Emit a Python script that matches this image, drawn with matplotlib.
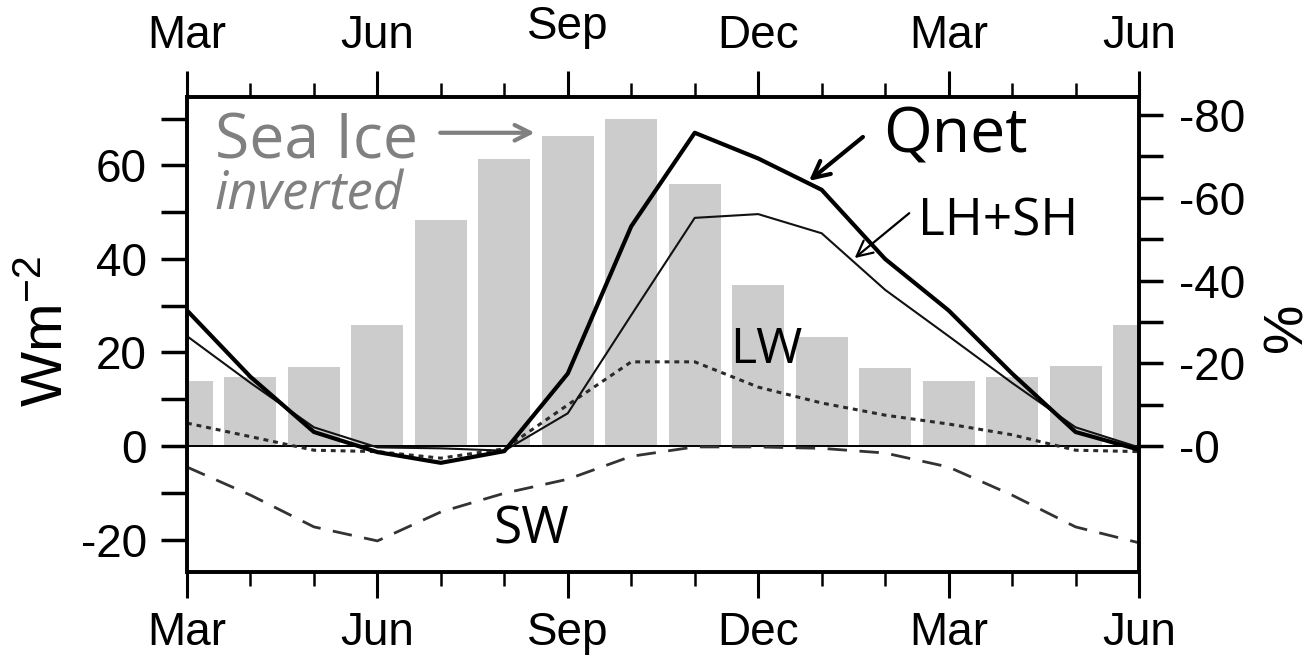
import matplotlib
matplotlib.use("Agg")
import matplotlib.pyplot as plt
import matplotlib.transforms as mtransforms
import numpy as np

plt.rcParams['font.family'] = ['Liberation Sans', 'DejaVu Sans']
plt.rcParams['mathtext.fontset'] = 'custom'
plt.rcParams['mathtext.rm'] = 'Liberation Sans'
plt.rcParams['mathtext.default'] = 'regular'

# ---- data ----
months = ['Mar', 'Apr', 'May', 'Jun', 'Jul', 'Aug', 'Sep', 'Oct', 'Nov', 'Dec',
          'Jan', 'Feb', 'Mar', 'Apr', 'May', 'Jun']
major_labels = ['Mar', 'Jun', 'Sep', 'Dec', 'Mar', 'Jun']
qnet = [29.0, 14.8, 3.0, -1.3, -3.6, -1.1, 15.5, 47.0, 67.0, 61.5, 54.8, 40.0,
        29.0, 15.5, 3.0, -0.8]
lh_sh = [23.5, 13.5, 4.0, -0.3, -0.5, -1.0, 7.0, 28.0, 48.8, 49.6, 45.5, 33.4,
         23.5, 13.5, 4.0, -0.3]
lw = [4.9, 2.0, -0.9, -1.2, -2.6, -0.6, 8.8, 18.0, 18.0, 12.6, 9.2, 6.6,
      4.7, 2.4, -0.9, -1.2]
sw = [-4.5, -10.5, -17.3, -20.3, -14.1, -10.1, -7.1, -2.2, -0.2, -0.2, -0.5, -1.5,
      -4.5, -10.5, -17.3, -20.7]
sea_ice = [-15.7, -16.7, -19.1, -29.2, -54.6, -69.3, -74.9, -79.0, -63.3, -38.9,
           -26.3, -18.8, -15.7, -16.7, -19.3, -29.2]
left_ticks = [-20, 0, 20, 40, 60]
right_ticks = [-80, -60, -40, -20, 0]
right_labels = ['-80', '-60', '-40', '-20', '-0']

x = np.arange(len(months))

fig = plt.figure(figsize=(13.15, 6.63), dpi=100)
ax = fig.add_axes([0.1422, 0.13725, 0.72396, 0.71645])
ax2 = ax.twinx()
ax.set_zorder(ax2.get_zorder() + 1)
ax.patch.set_visible(False)

# bars (sea ice, inverted right axis)
ax2.bar(x, sea_ice, width=0.82, color='#cccccc', edgecolor='none')
ax2.set_ylim(30.45, -84.35)

# lines
ax.axhline(0, color='black', lw=1.4, zorder=1)
ax.plot(x, sw, color='#333333', lw=2.0, ls=(0, (7, 4.5)))
ax.plot(x, lw, color='#2a2a2a', lw=2.2, ls=(0, (1.6, 1.6)))
ax.plot(x, lh_sh, color='#111111', lw=1.5)
ax.plot(x, qnet, color='black', lw=3.0)

ax.set_xlim(0, 15)
ax.set_ylim(-26.95, 74.65)

for a in (ax, ax2):
    for s in a.spines.values():
        s.set_linewidth(2.6)

ax.set_xticks(x[::3])
ax.set_xticklabels(major_labels)
ax.set_xticks(x, minor=True)
ax.set_yticks(left_ticks)
ax.set_yticklabels([str(v) for v in left_ticks])
ax.set_yticks([-10, 10, 30, 50, 70], minor=True)
ax2.set_yticks(right_ticks)
ax2.set_yticklabels(right_labels)
ax2.set_yticks([-70, -50, -30, -10], minor=True)

ax.tick_params(axis='x', which='major', direction='out', length=19, width=2.2,
               top=True, bottom=True, labeltop=True, labelbottom=True,
               labelsize=33, pad=9)
ax.tick_params(axis='x', which='minor', direction='out', length=10, width=1.8,
               top=True, bottom=True)
ax.tick_params(axis='y', which='both', direction='out', length=19, width=2.5,
               labelsize=33, pad=10)
ax2.tick_params(axis='y', which='both', direction='out', length=17, width=2.5,
                labelsize=33, pad=12)

# raise the top "Sep" label a little, as in the original
tk = ax.xaxis.get_major_ticks()[2]
tk.label2.set_fontsize(33)
tk.label2.set_transform(tk.label2.get_transform() +
                        mtransforms.ScaledTranslation(0, 9 / 100, fig.dpi_scale_trans))

# axis labels
ax.set_ylabel('Wm$^{-2}$', fontsize=42)
ax.yaxis.set_label_coords(-0.146, 0.505)
ax.yaxis.label.set_va('center')
ax.yaxis.label.set_rotation_mode('default')
ax2.set_ylabel('%', fontsize=40)
ax2.yaxis.set_label_coords(1.156, 0.515)
ax2.yaxis.label.set_va('center')
ax2.yaxis.label.set_rotation_mode('default')
ax2.yaxis.label.set_rotation(90)

# annotations
afont = ['Open Sans', 'DejaVu Sans']
ax.text(0.44, 61.6, 'Sea Ice', family=afont, fontsize=45, color='#808080',
        ha='left', va='baseline')
ax.text(0.44, 50.5, 'inverted', family=afont, fontsize=38, color='#808080',
        style='italic', ha='left', va='baseline')
ax.annotate('', xy=(5.48, 67.0), xytext=(3.99, 67.0),
            arrowprops=dict(arrowstyle='->', color='#808080', lw=3,
                            mutation_scale=28, shrinkA=0, shrinkB=0))
ax.text(10.97, 62.8, 'Qnet', family=afont, fontsize=45, color='black',
        ha='left', va='baseline')
ax.annotate('', xy=(9.80, 56.7), xytext=(10.65, 66.1),
            arrowprops=dict(arrowstyle='->', color='black', lw=3,
                            mutation_scale=30, shrinkA=0, shrinkB=0))
ax.text(11.52, 45.1, 'LH+SH', family=afont, fontsize=37, color='black',
        ha='left', va='baseline')
ax.annotate('', xy=(10.52, 40.2), xytext=(11.38, 49.8),
            arrowprops=dict(arrowstyle='->', color='black', lw=1.6,
                            mutation_scale=28, shrinkA=0, shrinkB=0))
ax.text(8.56, 17.75, 'LW', family=afont, fontsize=36, color='black',
        ha='left', va='baseline')
ax.text(4.82, -20.75, 'SW', family=afont, fontsize=37, color='black',
        ha='left', va='baseline')

fig.savefig('out.png', dpi=100)
